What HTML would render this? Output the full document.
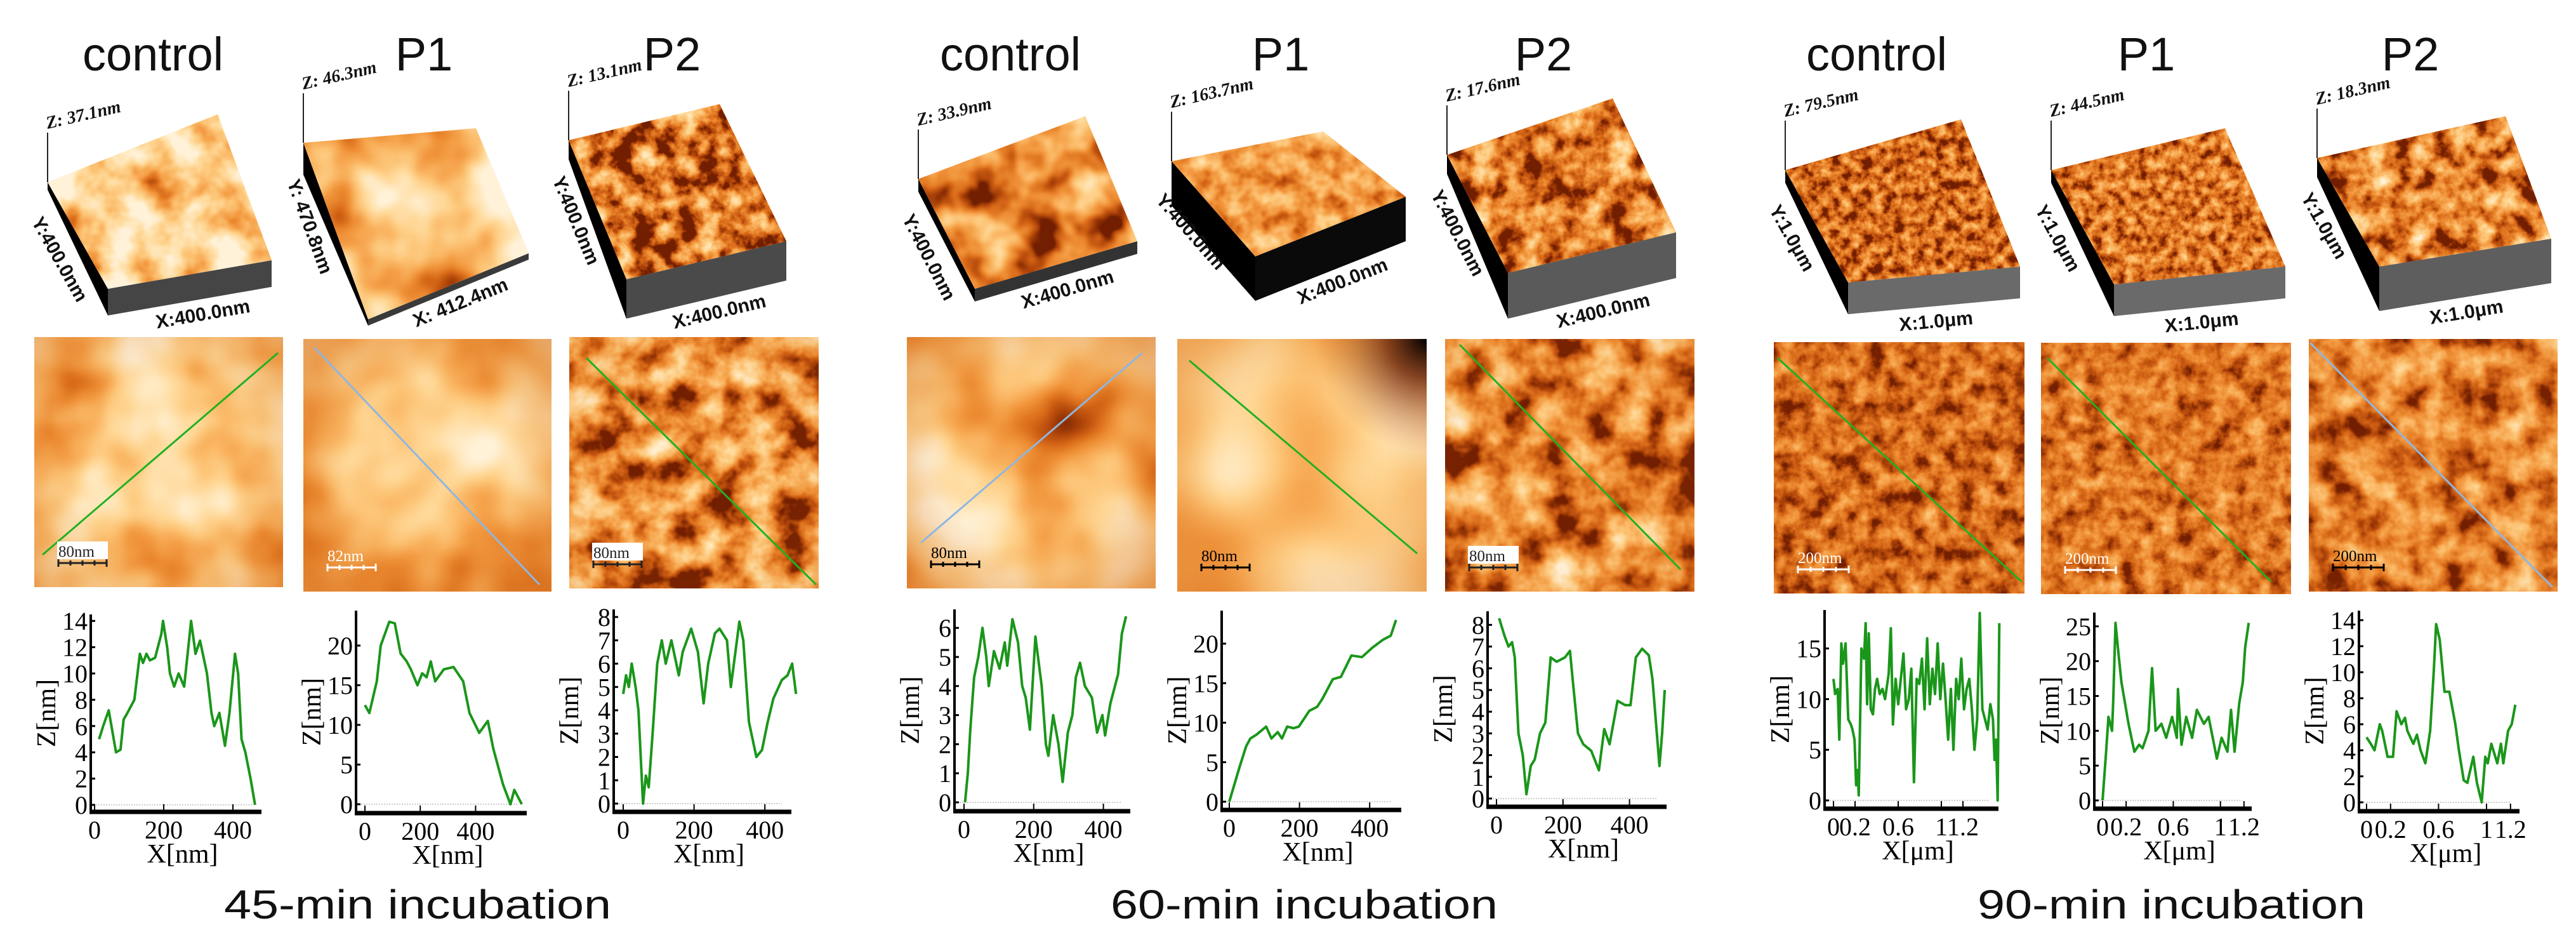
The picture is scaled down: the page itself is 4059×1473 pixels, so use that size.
<!DOCTYPE html>
<html><head><meta charset="utf-8"><title>AFM incubation figure</title>
<style>
html,body{margin:0;padding:0;background:#fff;}
svg{display:block;}
filter{color-interpolation-filters:sRGB;}
.ttl{font-family:"Liberation Sans",sans-serif;font-size:74px;fill:#111;text-anchor:middle;}
.bot{font-family:"Liberation Sans",sans-serif;font-size:64px;fill:#111;}
.tk{font-family:"Liberation Serif",serif;font-size:40px;fill:#000;}
.al{font-family:"Liberation Serif",serif;font-size:42px;fill:#000;}
.zl{font-family:"Liberation Serif",serif;font-size:28px;font-weight:bold;font-style:italic;fill:#111;}
.xl{font-family:"Liberation Sans",sans-serif;font-size:30px;font-weight:bold;fill:#111;}
.sb{font-family:"Liberation Serif",serif;font-size:25px;}
</style></head>
<body>
<svg id="fig" xmlns="http://www.w3.org/2000/svg" width="4059" height="1473" viewBox="0 0 4059 1473">
<rect x="0" y="0" width="4059" height="1473" fill="#fff"/>
<defs id="defs">
<radialGradient id="vig" cx="0.5" cy="0.5" r="0.75">
<stop offset="0.45" stop-color="#d06a18" stop-opacity="0"/>
<stop offset="1" stop-color="#c85a10" stop-opacity="0.7"/>
</radialGradient>
<radialGradient id="corner" cx="1" cy="0" r="0.45">
<stop offset="0" stop-color="#000" stop-opacity="1"/>
<stop offset="0.35" stop-color="#6a2000" stop-opacity="0.8"/>
<stop offset="1" stop-color="#d06a18" stop-opacity="0"/>
</radialGradient>
</defs>
<g>
<text class="ttl" x="241" y="111">control</text>
<text class="ttl" x="668" y="111">P1</text>
<text class="ttl" x="1059" y="111">P2</text>
<text class="ttl" x="1592" y="111">control</text>
<text class="ttl" x="2018" y="111">P1</text>
<text class="ttl" x="2432" y="111">P2</text>
<text class="ttl" x="2957" y="111">control</text>
<text class="ttl" x="3382" y="111">P1</text>
<text class="ttl" x="3798" y="111">P2</text>
</g>
<g>
<text class="bot" x="353" y="1447" textLength="610" lengthAdjust="spacingAndGlyphs">45-min incubation</text>
<text class="bot" x="1750" y="1447" textLength="610" lengthAdjust="spacingAndGlyphs">60-min incubation</text>
<text class="bot" x="3116" y="1447" textLength="611" lengthAdjust="spacingAndGlyphs">90-min incubation</text>
</g>
<g id="layer3d"></g>
<g id="layer2d"></g>
<g id="layerPlot"></g>
</svg>
<script>
// ---- profile data ----
const g1cX=[13,25,41,62,75,84,95,115,131,140,150,160,175,193,198,210,218,230,243,259,279,292,305,325,338,346,361,377,390,406,415,425,436,451,464];
const g1cZ=[5,6,7.2,4,4.2,6.5,7,8,11.5,10.8,11.5,11,11.2,13,14,12,10,9,10,9,14,11.5,12.5,10,7,6,7,4.5,7,11.5,10,5,4,2,0];
const g1p1X=[0,16,43,57,88,108,129,151,166,190,207,223,238,254,285,320,355,378,413,444,464,499,526,540,567];
const g1p1Z=[12.5,11.5,15.5,20,23,22.8,19,18,17,15,16.5,16,18,15.5,17,17.3,15.5,11.5,9,10.5,7,2.5,0,1.8,0];
const g1p2X=[0,8,16,24,35,43,56,64,72,83,96,109,120,136,157,168,192,211,227,240,259,272,293,304,328,339,355,376,392,408,424,448,464,477,488];
const g1p2Z=[4.7,5.5,5,6,5,4,0,1.2,0.7,3,6,7,6,7,5.5,6.5,7.5,6.5,4.3,6,7.3,7.5,7,5,7.8,7,3.5,2,2.3,3.5,4.5,5.3,5.5,6,4.7];
const g2cX=[3,11,18,29,41,53,64,71,86,102,117,124,139,155,167,177,189,205,223,235,242,256,271,283,298,311,321,333,347,367,382,397,405,420,442,453,465];
const g2cZ=[0,1,2.5,4.3,5,6,5,4,5.2,4.6,5.5,4.7,6.3,5.5,4,3.6,2.5,5.7,4,2,1.6,3,2,0.7,2.4,3,4.3,4.8,4,3.6,2.4,3,2.3,3.4,4.4,5.8,6.4];
const g2p1X=[0,10,30,48,60,78,105,120,138,150,165,183,198,213,228,250,265,295,318,348,378,408,438,460,475];
const g2p1Z=[0,1.5,4.5,7,8,8.5,9.5,8,8.8,8,9.5,9.3,9.5,10.5,11.5,12,13,15.5,15.8,18.5,18.3,19.5,20.5,21,23];
const g2p2X=[8,24,36,47,55,66,79,90,103,115,131,147,163,181,206,221,229,245,261,285,308,324,340,364,387,403,419,438,458,469,490,498,506];
const g2p2Z=[8.3,7.5,7,7.2,6.5,3,2,0.2,1.5,1.8,3,3.5,6.5,6.3,6.5,6.8,5.5,3,2.5,2.2,1.3,3.2,2.5,4.5,4.3,4.3,6.5,6.9,6.6,5.5,1.5,3,5];
const g3cX=[0,.015,.039,.054,.073,.088,.112,.137,.161,.176,.195,.21,.224,.234,.259,.283,.298,.312,.327,.346,.366,.385,.405,.429,.454,.478,.512,.532,.551,.576,.6,.624,.649,.673,.698,.722,.746,.771,.795,.82,.844,.868,.893,.917,.941,.966,.99,1.015,1.039,1.063,1.088,1.112,1.137,1.161,1.185,1.21,1.234,1.259,1.283,1.307,1.332,1.356,1.38,1.405,1.429,1.454,1.478,1.493,1.507,1.522,1.537];
const g3cZ=[12,10.5,11,6,15.5,13.5,15.5,8,7.5,7,6,1.5,3,0.5,15,14,17.5,9.5,16.5,9,8.5,11,12,10.5,11,10,12.5,17,7.5,12,9.5,12,14.5,9,10,13,1.8,12,11.5,14,9,16,9.5,13,10.5,15.5,10,13.5,10,6,11,5,12,10,14,9,11,12,9,5,8,18.5,9,8,7,9.5,8,4,6,0,17.5];
const g3p1X=[0,.03,.05,.08,.09,.11,.13,.16,.19,.22,.27,.31,.34,.39,.42,.45,.5,.54,.59,.63,.64,.67,.71,.76,.8,.86,.9,.97,1.01,1.06,1.09,1.12,1.16,1.19,1.21,1.24];
const g3p1Z=[0,7,12,10,14,25.5,22,17,14,11,7,8,7.5,10,19,10,11,9,12,9,16,8,12,9,13,11,12,6,9,7,13,7,14,17,22,25.5];
const g3p2X=[0,.035,.066,.11,.13,.175,.22,.25,.29,.32,.34,.39,.42,.45,.49,.53,.56,.58,.61,.65,.69,.74,.77,.81,.84,.89,.92,.96,.99,1.01,1.04,1.09,1.12,1.14,1.18,1.21,1.24];
const g3p2Z=[5,4.5,4,6,5.5,3.5,3.5,7,6,6.5,5.5,4.5,5.2,4,3,5.5,10,13.7,12.5,8.5,8.5,6,4,1.7,1.5,3.5,1.5,0,3.5,3,4.5,3,4.5,3,5.5,6,7.5];
// tick values
const yTicksA=[0,2,4,6,8,10,12,14];
const yTicksB=[0,5,10,15,20];
const yTicksC=[0,1,2,3,4,5,6,7,8];
const yTicksD=[0,1,2,3,4,5,6];
const yTicksE=[0,5,10,15];
const yTicksF=[0,5,10,15,20,25];
const xTicksNm=[0,200,400];
const xTicksUm=[0,0.2,0.6,1,1.2];

const NS='http://www.w3.org/2000/svg';
function mk(tag,attrs,parent){const e=document.createElementNS(NS,tag);for(const k in attrs)e.setAttribute(k,attrs[k]);parent.appendChild(e);return e;}
const defs=document.getElementById('defs');
const L3=document.getElementById('layer3d');
const L2=document.getElementById('layer2d');
const LP=document.getElementById('layerPlot');

// ---- texture filters ----
function addTex(id,freq,oct,seed,gain,off){
  const f=mk('filter',{id:id,x:'0',y:'0',width:'1',height:'1','color-interpolation-filters':'sRGB'},defs);
  mk('feTurbulence',{type:'fractalNoise',baseFrequency:freq,numOctaves:oct,seed:seed,result:'n'},f);
  mk('feColorMatrix',{in:'n',type:'matrix',values:gain+' 0 0 0 '+off+' '+gain+' 0 0 0 '+off+' '+gain+' 0 0 0 '+off+' 0 0 0 0 1',result:'g'},f);
  const ct=mk('feComponentTransfer',{in:'g',result:'c'},f);
  mk('feFuncR',{type:'table',tableValues:'0.45 0.7 0.85 0.93 0.97 0.99 1 1 1'},ct);
  mk('feFuncG',{type:'table',tableValues:'0.12 0.28 0.42 0.55 0.66 0.76 0.84 0.9 0.95'},ct);
  mk('feFuncB',{type:'table',tableValues:'0 0.04 0.1 0.2 0.32 0.45 0.58 0.72 0.85'},ct);
  mk('feComposite',{in:'c',in2:'SourceGraphic',operator:'in'},f);
}

// ---- 2D AFM images ----
const imgs=[
 {n:'45-control',x:54,y:531,w:392,h:394,tex:['0.006',3,3,1.5,-0.08],vig:0.55,line:'#22b022',l:[67,874,438,556],sb:'80nm',sbc:'#222',sbbg:true},
 {n:'45-p1',x:478,y:534,w:391,h:398,tex:['0.005',3,7,1.4,-0.08],vig:0.75,line:'#8fb6e0',l:[496,548,850,921],sb:'82nm',sbc:'#fff',sbbg:false},
 {n:'45-p2',x:897,y:531,w:393,h:396,tex:['0.018',4,11,1.6,-0.42],vig:0.25,line:'#22b022',l:[924,564,1286,921],sb:'80nm',sbc:'#222',sbbg:true},
 {n:'60-control',x:1429,y:531,w:392,h:396,tex:['0.005',3,5,1.4,-0.05],vig:0.75,line:'#8fb6e0',l:[1451,855,1800,556],sb:'80nm',sbc:'#000',sbbg:false},
 {n:'60-p1',x:1855,y:534,w:393,h:398,tex:['0.004',2,9,1.2,0.1],vig:0.5,corner:true,line:'#22b022',l:[1874,568,2233,872],sb:'80nm',sbc:'#000',sbbg:false},
 {n:'60-p2',x:2277,y:534,w:393,h:398,tex:['0.016',4,13,1.6,-0.45],vig:0.25,line:'#22b022',l:[2300,543,2648,897],sb:'80nm',sbc:'#222',sbbg:true},
 {n:'90-control',x:2795,y:539,w:395,h:396,tex:['0.035',4,17,1.0,-0.25],vig:0.1,line:'#22b022',l:[2801,564,3185,916],sb:'200nm',sbc:'#fff',sbbg:false},
 {n:'90-p1',x:3216,y:540,w:394,h:396,tex:['0.035',4,19,1.0,-0.2],vig:0.1,line:'#22b022',l:[3226,564,3578,916],sb:'200nm',sbc:'#fff',sbbg:false},
 {n:'90-p2',x:3638,y:534,w:392,h:398,tex:['0.02',4,23,1.3,-0.32],vig:0.12,line:'#8fb6e0',l:[3640,540,4022,925],sb:'200nm',sbc:'#000',sbbg:false}
];
imgs.forEach((m,i)=>{
  addTex('t2d'+i,m.tex[0],m.tex[1],m.tex[2],m.tex[3],m.tex[4]);
  const g=mk('g',{},L2);
  
  
  const r=mk('rect',{x:m.x,y:m.y,width:m.w,height:m.h,fill:'#fff',filter:'url(#t2d'+i+')'},g);
  
  
  const v=mk('rect',{x:m.x,y:m.y,width:m.w,height:m.h,fill:'url(#vig)',opacity:m.vig},g);
  
  
  if(m.corner){
    const c=mk('rect',{x:m.x,y:m.y,width:m.w,height:m.h,fill:'url(#corner)'},g);
    
    
  }
  const ln=mk('line',{x1:m.l[0],y1:m.l[1],x2:m.l[2],y2:m.l[3],stroke:m.line,'stroke-width':3},g);
  
  
  const sx=m.x+38, sy=m.y+m.h-48;
  if(m.sbbg){
    const bg=mk('rect',{x:sx-2,y:sy-24,width:80,height:28,fill:'#fff'},g);
    
    
  }
  const t=mk('text',{x:sx,y:sy,class:'sb',fill:m.sbc},g);
  t.textContent=m.sb;
  
  
  const bw=m.sb.length>4?80:76;
  const bar=mk('path',{d:'M'+sx+' '+(sy+10)+'h'+bw+'M'+sx+' '+(sy+4)+'v12M'+(sx+bw/4)+' '+(sy+6)+'v8M'+(sx+bw/2)+' '+(sy+6)+'v8M'+(sx+3*bw/4)+' '+(sy+6)+'v8M'+(sx+bw)+' '+(sy+4)+'v12',stroke:m.sbc,'stroke-width':3,fill:'none'},g);
  
  
});

// ---- 3D surfaces ----
const s3=[
 {n:'45-control',BL:[75,287],BR:[343,180],FR:[428,410],FL:[170,455],d:42,left:12,tex:['0.012',4,31,1.8,-0.2],front:'#454545',z:'Z: 37.1nm',y:'Y:400.0nm',x:'X:400.0nm'},
 {n:'45-p1',BL:[478,225],BR:[750,202],FR:[833,399],FL:[580,503],d:10,left:50,tex:['0.008',3,33,1.5,-0.12],front:'#3a3a3a',z:'Z: 46.3nm',y:'Y: 470.8nm',x:'X: 412.4nm'},
 {n:'45-p2',BL:[896,221],BR:[1134,164],FR:[1239,380],FL:[987,440],d:62,left:30,tex:['0.03',4,35,1.8,-0.62],front:'#4a4a4a',z:'Z: 13.1nm',y:'Y:400.0nm',x:'X:400.0nm'},
 {n:'60-control',BL:[1447,282],BR:[1710,183],FR:[1792,380],FL:[1536,455],d:20,left:20,tex:['0.015',3,37,1.4,-0.35],front:'#333',z:'Z: 33.9nm',y:'Y:400.0nm',x:'X:400.0nm'},
 {n:'60-p1',BL:[1846,254],BR:[2085,207],FR:[2215,310],FL:[1978,404],d:70,left:70,tex:['0.03',3,39,1,-0.05],front:'#0a0a0a',z:'Z: 163.7nm',y:'Y:400.0nm',x:'X:400.0nm'},
 {n:'60-p2',BL:[2280,244],BR:[2541,155],FR:[2641,366],FL:[2376,430],d:72,left:30,tex:['0.028',4,41,1.6,-0.48],front:'#5a5a5a',z:'Z: 17.6nm',y:'Y:400.0nm',x:'X:400.0nm'},
 {n:'90-control',BL:[2813,268],BR:[3090,188],FR:[3183,420],FL:[2912,445],d:50,left:20,tex:['0.06',4,43,1.2,-0.35],front:'#6a6a6a',z:'Z: 79.5nm',y:'Y:1.0μm',x:'X:1.0μm'},
 {n:'90-p1',BL:[3232,268],BR:[3506,202],FR:[3601,420],FL:[3331,448],d:50,left:20,tex:['0.06',4,45,1.2,-0.3],front:'#6a6a6a',z:'Z: 44.5nm',y:'Y:1.0μm',x:'X:1.0μm'},
 {n:'90-p2',BL:[3651,249],BR:[3948,183],FR:[4020,376],FL:[3749,420],d:70,left:30,tex:['0.03',4,47,1.6,-0.45],front:'#5e5e5e',z:'Z: 18.3nm',y:'Y:1.0μm',x:'X:1.0μm'}
];
function P(p){return p[0]+','+p[1];}
s3.forEach((s,i)=>{
  addTex('t3d'+i,s.tex[0],s.tex[1],s.tex[2],s.tex[3],s.tex[4]);
  const g=mk('g',{},L3);
  
  
  const fl2=[s.FL[0],s.FL[1]+s.d], fr2=[s.FR[0],s.FR[1]+s.d], bl2=[s.BL[0],s.BL[1]+s.left];
  const lf=mk('polygon',{points:P(s.BL)+' '+P(s.FL)+' '+P(fl2)+' '+P(bl2),fill:'#000'},g);
  
  
  const ff=mk('polygon',{points:P(s.FL)+' '+P(s.FR)+' '+P(fr2)+' '+P(fl2),fill:s.front},g);
  
  
  const top=mk('polygon',{points:P(s.BL)+' '+P(s.BR)+' '+P(s.FR)+' '+P(s.FL),fill:'#fff',filter:'url(#t3d'+i+')'},g);
  
  
  const za=mk('line',{x1:s.BL[0],y1:s.BL[1],x2:s.BL[0],y2:s.BL[1]-78,stroke:'#222','stroke-width':2},g);
  
  
  const zt=mk('text',{x:s.BL[0],y:s.BL[1]-84,class:'zl',transform:'rotate(-13 '+s.BL[0]+' '+(s.BL[1]-84)+')'},g);
  zt.textContent=s.z;
  
  
  const ay=Math.atan2(s.FL[1]-s.BL[1],s.FL[0]-s.BL[0])*180/Math.PI;
  const yx=s.BL[0]-26, yy=s.BL[1]+62;
  const yt=mk('text',{x:yx,y:yy,class:'xl',transform:'rotate('+ay.toFixed(1)+' '+yx+' '+yy+')'},g);
  yt.textContent=s.y;
  
  
  const ax=Math.atan2(s.FR[1]-s.FL[1],s.FR[0]-s.FL[0])*180/Math.PI;
  const xx=s.FL[0]+(s.FR[0]-s.FL[0])*0.3, xy=s.FL[1]+(s.FR[1]-s.FL[1])*0.3+s.d+34;
  const xt=mk('text',{x:xx,y:xy,class:'xl',transform:'rotate('+ax.toFixed(1)+' '+xx+' '+xy+')'},g);
  xt.textContent=s.x;
  
  
});

// ---- profile plots ----
const plots=[
 {n:'45-control',X:g1cX,Z:g1cZ,ax:143,xe:412,by:1279,yt:968,x0:149,xs:0.545,y0:1268,ys:20.7,yT:yTicksA,xT:xTicksNm,u:'X[nm]'},
 {n:'45-p1',X:g1p1X,Z:g1p1Z,ax:561,xe:830,by:1281,yt:962,x0:575,xs:0.436,y0:1267,ys:12.5,yT:yTicksB,xT:xTicksNm,u:'X[nm]'},
 {n:'45-p2',X:g1p2X,Z:g1p2Z,ax:967,xe:1247,by:1279,yt:960,x0:982,xs:0.558,y0:1266,ys:36.75,yT:yTicksC,xT:xTicksNm,u:'X[nm]'},
 {n:'60-control',X:g2cX,Z:g2cZ,ax:1504,xe:1781,by:1278,yt:960,x0:1519,xs:0.549,y0:1264,ys:45.8,yT:yTicksD,xT:xTicksNm,u:'X[nm]'},
 {n:'60-p1',X:g2p1X,Z:g2p1Z,ax:1925,xe:2208,by:1276,yt:962,x0:1937,xs:0.553,y0:1263,ys:12.45,yT:yTicksB,xT:xTicksNm,u:'X[nm]'},
 {n:'60-p2',X:g2p2X,Z:g2p2Z,ax:2344,xe:2626,by:1271,yt:963,x0:2358,xs:0.524,y0:1258,ys:34.2,yT:yTicksC,xT:xTicksNm,u:'X[nm]'},
 {n:'90-control',X:g3cX,Z:g3cZ,ax:2875,xe:3149,by:1274,yt:961,x0:2889,xs:170,y0:1261,ys:15.96,yT:yTicksE,xT:xTicksUm,u:'X[μm]'},
 {n:'90-p1',X:g3p1X,Z:g3p1Z,ax:3300,xe:3548,by:1274,yt:965,x0:3313,xs:185.7,y0:1261,ys:10.97,yT:yTicksF,xT:xTicksUm,u:'X[μm]'},
 {n:'90-p2',X:g3p2X,Z:g3p2Z,ax:3717,xe:3970,by:1278,yt:962,x0:3729,xs:189,y0:1264,ys:20.5,yT:yTicksA,xT:xTicksUm,u:'X[μm]'}
];
plots.forEach(p=>{
  const sx=v=>p.x0+v*p.xs, sy=v=>p.y0-v*p.ys;
  const g=mk('g',{},LP);
  
  
  const zl=mk('line',{x1:p.ax,y1:p.y0,x2:p.xe-15,y2:p.y0,stroke:'#bbb','stroke-width':1.5,'stroke-dasharray':'2 2'},g);
  
  
  const ya=mk('line',{x1:p.ax,y1:p.yt,x2:p.ax,y2:p.by,stroke:'#000','stroke-width':4},g);
  
  
  const xa=mk('line',{x1:p.ax-2,y1:p.by,x2:p.xe,y2:p.by,stroke:'#000','stroke-width':7},g);
  
  
  p.yT.forEach(v=>{
    const tm=mk('line',{x1:p.ax-2,y1:sy(v),x2:p.ax+7,y2:sy(v),stroke:'#000','stroke-width':3},g);
    
    
    const t=mk('text',{x:p.ax-5,y:sy(v)+14,class:'tk','text-anchor':'end'},g);
    t.textContent=String(v);
    
    
  });
  p.xT.forEach(v=>{
    const tm=mk('line',{x1:sx(v),y1:p.by,x2:sx(v),y2:p.by-12,stroke:'#000','stroke-width':2},g);
    
    
    const t=mk('text',{x:sx(v),y:p.by+42,class:'tk','text-anchor':'middle'},g);
    t.textContent=String(v);
    
    
  });
  const ylab=mk('text',{x:p.ax-56,y:(p.yt+p.by)/2,class:'al','text-anchor':'middle',transform:'rotate(-90 '+(p.ax-56)+' '+((p.yt+p.by)/2)+')'},g);
  ylab.textContent='Z[nm]';
  
  
  const xlab=mk('text',{x:(p.ax+p.xe)/2+10,y:p.by+80,class:'al','text-anchor':'middle'},g);
  xlab.textContent=p.u;
  
  
  const d=p.X.map((v,i)=>(i?'L':'M')+sx(v).toFixed(1)+' '+sy(p.Z[i]).toFixed(1)).join('');
  const path=mk('path',{d:d,fill:'none',stroke:'#1a961a','stroke-width':4,'stroke-linejoin':'round'},g);
  
  
});
</script>
</body></html>
